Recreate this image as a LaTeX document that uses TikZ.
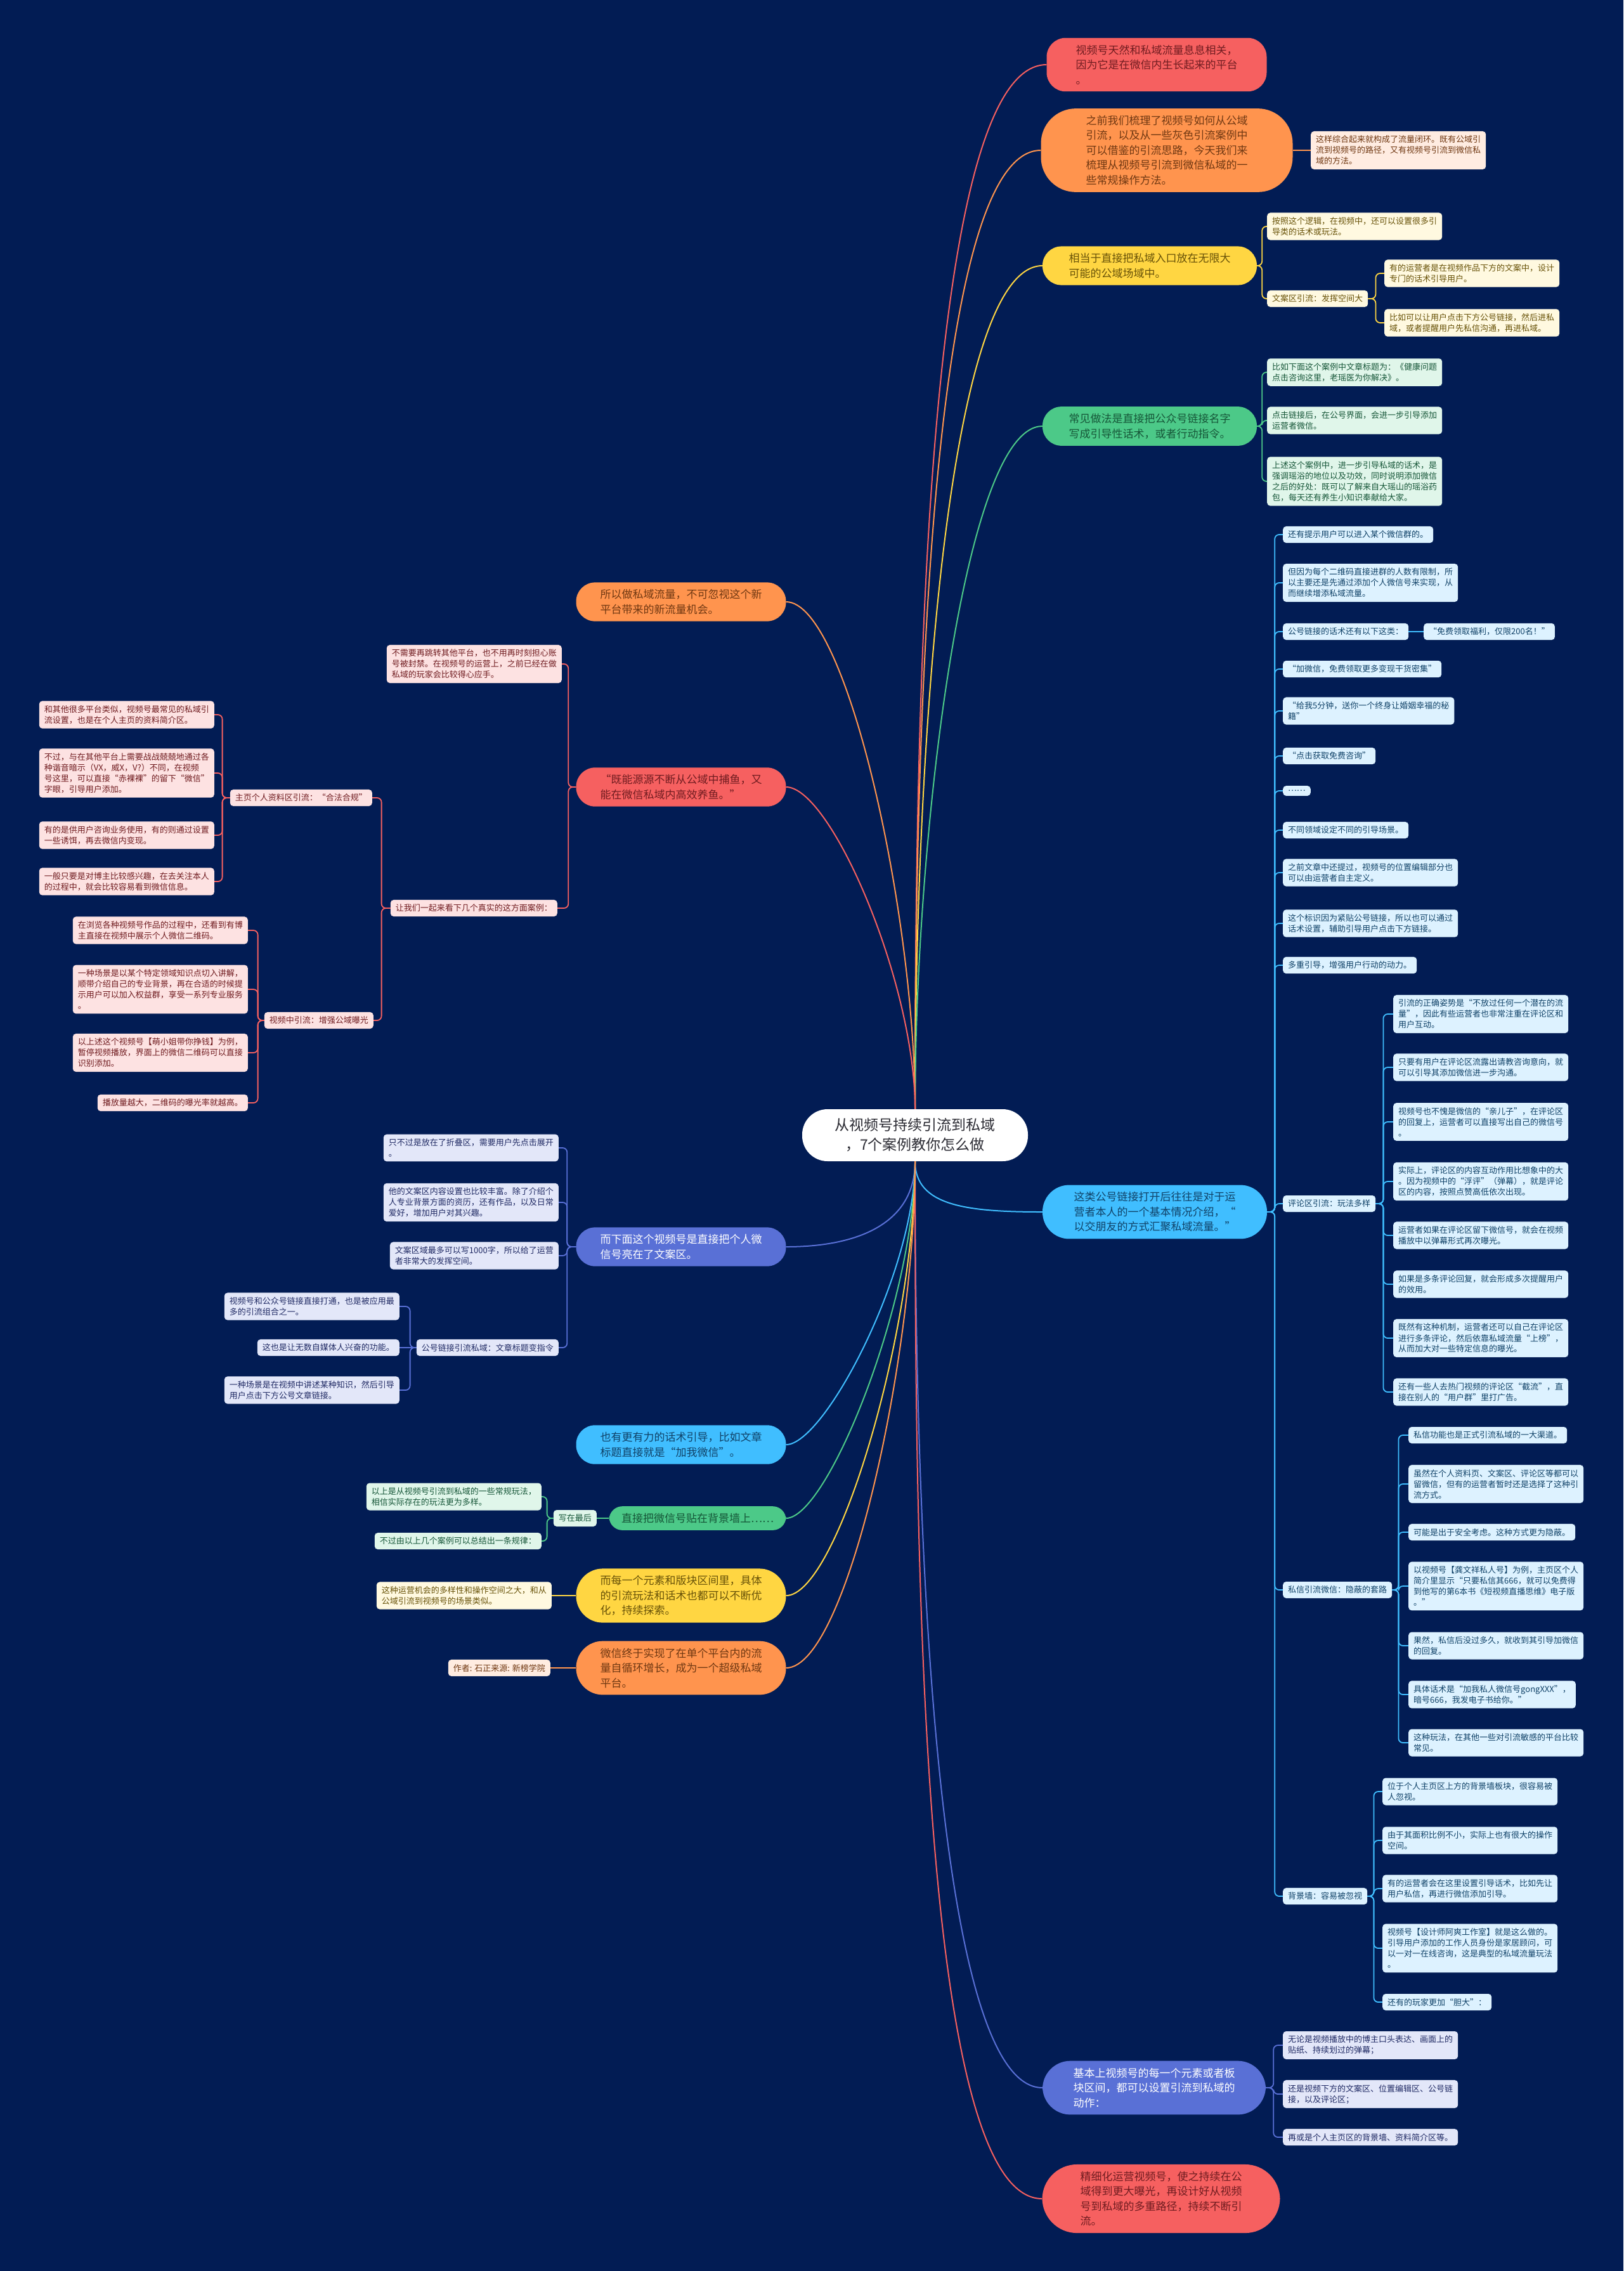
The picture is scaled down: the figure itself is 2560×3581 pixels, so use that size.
\documentclass[tikz,border=0pt]{standalone}
\usepackage{fontspec}
\setmainfont{Noto Sans CJK SC}
\definecolor{night}{RGB}{2,28,84}
\definecolor{ink}{RGB}{44,44,52}
\definecolor{coral}{RGB}{246,96,96}
\definecolor{coralpale}{RGB}{253,226,226}
\definecolor{coraldark}{RGB}{112,28,32}
\definecolor{amber}{RGB}{255,148,78}
\definecolor{amberpale}{RGB}{255,236,225}
\definecolor{amberdark}{RGB}{112,56,18}
\definecolor{sun}{RGB}{255,214,66}
\definecolor{sunpale}{RGB}{255,249,224}
\definecolor{sundark}{RGB}{104,82,8}
\definecolor{mint}{RGB}{76,201,136}
\definecolor{mintpale}{RGB}{224,246,234}
\definecolor{mintdark}{RGB}{22,86,56}
\definecolor{sky}{RGB}{64,190,255}
\definecolor{skypale}{RGB}{221,242,255}
\definecolor{skydark}{RGB}{16,66,104}
\definecolor{iris}{RGB}{89,112,214}
\definecolor{irispale}{RGB}{227,231,249}
\definecolor{irisdark}{RGB}{32,42,100}
\tikzset{
  hub/.style={fill=white,text=ink,rounded corners=40pt,minimum width=356pt,minimum height=82pt,align=center,font=\fontsize{23pt}{31pt}\selectfont},
  big/.style={rounded corners=30pt,inner xsep=14pt,inner ysep=11pt,align=left,font=\fontsize{17pt}{23.5pt}\selectfont},
  note/.style={rounded corners=5pt,inner xsep=8pt,inner ysep=7pt,align=left,font=\fontsize{13pt}{17pt}\selectfont},
  bcoral/.style={big,fill=coral,text=coraldark},
  bamber/.style={big,fill=amber,text=amberdark},
  bsun/.style={big,fill=sun,text=sundark},
  bmint/.style={big,fill=mint,text=mintdark},
  bsky/.style={big,fill=sky,text=skydark},
  biris/.style={big,fill=iris,text=white},
  ncoral/.style={note,fill=coralpale,text=coraldark},
  namber/.style={note,fill=amberpale,text=amberdark},
  nsun/.style={note,fill=sunpale,text=sundark},
  nmint/.style={note,fill=mintpale,text=mintdark},
  nsky/.style={note,fill=skypale,text=skydark},
  niris/.style={note,fill=irispale,text=irisdark},
  wire/.style={line width=2pt},
  twig/.style={line width=1.8pt,rounded corners=7pt},
  brR/.style={to path={-- ++(#1,0) |- (\tikztotarget)}},brR/.default=12,
  brL/.style={to path={-- ++(-#1,0) |- (\tikztotarget)}},brL/.default=12
}
\begin{document}
\begin{tikzpicture}[x=1pt,y=-1pt]
  \fill[night] (0,0) rectangle (2560,3581);
  % centre
  \node[hub] (root) at (1443,1790) {从视频号持续引流到私域\\，7个案例教你怎么做};
  % right branches
  \node[bcoral,minimum width=347pt] (r1) at (1824,102) {视频号天然和私域流量息息相关，\\因为它是在微信内生长起来的平台\\。};
  \node[bamber,minimum width=397pt,rounded corners=55pt] (r2) at (1840,237) {之前我们梳理了视频号如何从公域\\引流，以及从一些灰色引流案例中\\可以借鉴的引流思路，今天我们来\\梳理从视频号引流到微信私域的一\\些常规操作方法。};
  \node[bsun,minimum width=338pt] (r3) at (1813,419) {相当于直接把私域入口放在无限大\\可能的公域场域中。};
  \node[bmint,minimum width=338pt] (r4) at (1813,672) {常见做法是直接把公众号链接名字\\写成引导性话术，或者行动指令。};
  \node[bsky,minimum width=354pt,rounded corners=42pt] (r5) at (1821,1911) {这类公号链接打开后往往是对于运\\营者本人的一个基本情况介绍，“\\以交朋友的方式汇聚私域流量。”};
  \node[biris,minimum width=352pt,rounded corners=44pt] (r6) at (1820,3292) {基本上视频号的每一个元素或者板\\块区间，都可以设置引流到私域的\\动作：};
  \node[bcoral,minimum width=375pt,rounded corners=55pt] (r7) at (1831,3467) {精细化运营视频号，使之持续在公\\域得到更大曝光，再设计好从视频\\号到私域的多重路径，持续不断引\\流。};
  % left branches
  \node[bamber,minimum width=331pt] (l1) at (1074,949) {所以做私域流量，不可忽视这个新\\平台带来的新流量机会。};
  \node[bcoral,minimum width=331pt] (l2) at (1074,1241) {“既能源源不断从公域中捕鱼，又\\能在微信私域内高效养鱼。”};
  \node[biris,minimum width=331pt] (l3) at (1074,1966) {而下面这个视频号是直接把个人微\\信号亮在了文案区。};
  \node[bsky,minimum width=331pt] (l4) at (1074,2278) {也有更有力的话术引导，比如文章\\标题直接就是“加我微信”。};
  \node[bmint,minimum width=279pt,rounded corners=21pt] (l5) at (1100,2394) {直接把微信号贴在背景墙上……};
  \node[bsun,minimum width=331pt,rounded corners=42pt] (l6) at (1074,2516) {而每一个元素和版块区间里，具体\\的引流玩法和话术也都可以不断优\\化，持续探索。};
  \node[bamber,minimum width=331pt,rounded corners=42pt] (l7) at (1074,2630) {微信终于实现了在单个平台内的流\\量自循环增长，成为一个超级私域\\平台。};
  % right leaves
  \node[namber,anchor=west] (r2a) at (2067,237) {这样综合起来就构成了流量闭环。既有公域引\\流到视频号的路径，又有视频号引流到微信私\\域的方法。};
  \node[nsun,anchor=west] (r3a) at (1998,357) {按照这个逻辑，在视频中，还可以设置很多引\\导类的话术或玩法。};
  \node[nsun,anchor=west] (r3b) at (1998,471) {文案区引流：发挥空间大};
  \node[nsun,anchor=west] (r3b1) at (2183,431) {有的运营者是在视频作品下方的文案中，设计\\专门的话术引导用户。};
  \node[nsun,anchor=west] (r3b2) at (2183,509) {比如可以让用户点击下方公号链接，然后进私\\域，或者提醒用户先私信沟通，再进私域。};
  \node[nmint,anchor=west] (r4a) at (1998,587) {比如下面这个案例中文章标题为：《健康问题\\点击咨询这里，老瑶医为你解决》。};
  \node[nmint,anchor=west] (r4b) at (1998,663) {点击链接后，在公号界面，会进一步引导添加\\运营者微信。};
  \node[nmint,anchor=west] (r4c) at (1998,759) {上述这个案例中，进一步引导私域的话术，是\\强调瑶浴的地位以及功效，同时说明添加微信\\之后的好处：既可以了解来自大瑶山的瑶浴药\\包，每天还有养生小知识奉献给大家。};
  \node[nsky,anchor=west] (r5a) at (2023,843) {还有提示用户可以进入某个微信群的。};
  \node[nsky,anchor=west] (r5b) at (2023,919) {但因为每个二维码直接进群的人数有限制，所\\以主要还是先通过添加个人微信号来实现，从\\而继续增添私域流量。};
  \node[nsky,anchor=west] (r5c) at (2023,996) {公号链接的话术还有以下这类：};
  \node[nsky,anchor=west] (r5c1) at (2245,996) {“免费领取福利，仅限200名！”};
  \node[nsky,anchor=west] (r5d) at (2023,1055) {“加微信，免费领取更多变现干货密集”};
  \node[nsky,anchor=west] (r5e) at (2023,1121) {“给我5分钟，送你一个终身让婚姻幸福的秘\\籍”};
  \node[nsky,anchor=west] (r5f) at (2023,1192) {“点击获取免费咨询”};
  \node[nsky,anchor=west] (r5g) at (2023,1247) {……};
  \node[nsky,anchor=west] (r5h) at (2023,1309) {不同领域设定不同的引导场景。};
  \node[nsky,anchor=west] (r5i) at (2023,1376) {之前文章中还提过，视频号的位置编辑部分也\\可以由运营者自主定义。};
  \node[nsky,anchor=west] (r5j) at (2023,1456) {这个标识因为紧贴公号链接，所以也可以通过\\话术设置，辅助引导用户点击下方链接。};
  \node[nsky,anchor=west] (r5k) at (2023,1522) {多重引导，增强用户行动的动力。};
  \node[nsky,anchor=west] (r5l) at (2023,1898) {评论区引流：玩法多样};
  \node[nsky,anchor=west] (r5m) at (2023,2507) {私信引流微信：隐蔽的套路};
  \node[nsky,anchor=west] (r5n) at (2023,2990) {背景墙：容易被忽视};
  \node[nsky,anchor=west] (r5l1) at (2197,1599) {引流的正确姿势是“不放过任何一个潜在的流\\量”，因此有些运营者也非常注重在评论区和\\用户互动。};
  \node[nsky,anchor=west] (r5l2) at (2197,1683) {只要有用户在评论区流露出请教咨询意向，就\\可以引导其添加微信进一步沟通。};
  \node[nsky,anchor=west] (r5l3) at (2197,1769) {视频号也不愧是微信的“亲儿子”，在评论区\\的回复上，运营者可以直接写出自己的微信号\\。};
  \node[nsky,anchor=west] (r5l4) at (2197,1863) {实际上，评论区的内容互动作用比想象中的大\\。因为视频中的“浮评”（弹幕），就是评论\\区的内容，按照点赞高低依次出现。};
  \node[nsky,anchor=west] (r5l5) at (2197,1948) {运营者如果在评论区留下微信号，就会在视频\\播放中以弹幕形式再次曝光。};
  \node[nsky,anchor=west] (r5l6) at (2197,2025) {如果是多条评论回复，就会形成多次提醒用户\\的效用。};
  \node[nsky,anchor=west] (r5l7) at (2197,2110) {既然有这种机制，运营者还可以自己在评论区\\进行多条评论，然后依靠私域流量“上榜”，\\从而加大对一些特定信息的曝光。};
  \node[nsky,anchor=west] (r5l8) at (2197,2195) {还有一些人去热门视频的评论区“截流”，直\\接在别人的“用户群”里打广告。};
  \node[nsky,anchor=west] (r5m1) at (2221,2263) {私信功能也是正式引流私域的一大渠道。};
  \node[nsky,anchor=west] (r5m2) at (2221,2340) {虽然在个人资料页、文案区、评论区等都可以\\留微信，但有的运营者暂时还是选择了这种引\\流方式。};
  \node[nsky,anchor=west] (r5m3) at (2221,2416) {可能是出于安全考虑。这种方式更为隐蔽。};
  \node[nsky,anchor=west] (r5m4) at (2221,2501) {以视频号【龚文祥私人号】为例，主页区个人\\简介里显示“只要私信其666，就可以免费得\\到他写的第6本书《短视频直播思维》电子版\\。”};
  \node[nsky,anchor=west] (r5m5) at (2221,2595) {果然，私信后没过多久，就收到其引导加微信\\的回复。};
  \node[nsky,anchor=west] (r5m6) at (2221,2672) {具体话术是“加我私人微信号gongXXX”，\\暗号666，我发电子书给你。”};
  \node[nsky,anchor=west] (r5m7) at (2221,2748) {这种玩法，在其他一些对引流敏感的平台比较\\常见。};
  \node[nsky,anchor=west] (r5n1) at (2180,2825) {位于个人主页区上方的背景墙板块，很容易被\\人忽视。};
  \node[nsky,anchor=west] (r5n2) at (2180,2902) {由于其面积比例不小，实际上也有很大的操作\\空间。};
  \node[nsky,anchor=west] (r5n3) at (2180,2978) {有的运营者会在这里设置引导话术，比如先让\\用户私信，再进行微信添加引导。};
  \node[nsky,anchor=west] (r5n4) at (2180,3072) {视频号【设计师阿爽工作室】就是这么做的。\\引导用户添加的工作人员身份是家居顾问，可\\以一对一在线咨询，这是典型的私域流量玩法\\。};
  \node[nsky,anchor=west] (r5n5) at (2180,3157) {还有的玩家更加“胆大”：};
  \node[niris,anchor=west] (r6a) at (2023,3225) {无论是视频播放中的博主口头表达、画面上的\\贴纸、持续划过的弹幕；};
  \node[niris,anchor=west] (r6b) at (2023,3302) {还是视频下方的文案区、位置编辑区、公号链\\接，以及评论区；};
  \node[niris,anchor=west] (r6c) at (2023,3370) {再或是个人主页区的背景墙、资料简介区等。};
  % left leaves
  \node[ncoral,anchor=east] (l2a) at (886,1047) {不需要再跳转其他平台，也不用再时刻担心账\\号被封禁。在视频号的运营上，之前已经在做\\私域的玩家会比较得心应手。};
  \node[ncoral,anchor=east] (l2b) at (879,1432) {让我们一起来看下几个真实的这方面案例：};
  \node[ncoral,anchor=east] (l2b1) at (587,1258) {主页个人资料区引流：“合法合规”};
  \node[ncoral,anchor=east] (l2b1a) at (338,1127) {和其他很多平台类似，视频号最常见的私域引\\流设置，也是在个人主页的资料简介区。};
  \node[ncoral,anchor=east] (l2b1b) at (338,1219) {不过，与在其他平台上需要战战兢兢地通过各\\种谐音暗示（VX，威X，V?）不同，在视频\\号这里，可以直接“赤裸裸”的留下“微信”\\字眼，引导用户添加。};
  \node[ncoral,anchor=east] (l2b1c) at (338,1317) {有的是供用户咨询业务使用，有的则通过设置\\一些诱饵，再去微信内变现。};
  \node[ncoral,anchor=east] (l2b1d) at (338,1390) {一般只要是对博主比较感兴趣，在去关注本人\\的过程中，就会比较容易看到微信信息。};
  \node[ncoral,anchor=east] (l2b2) at (589,1609) {视频中引流：增强公域曝光};
  \node[ncoral,anchor=east] (l2b2a) at (391,1467) {在浏览各种视频号作品的过程中，还看到有博\\主直接在视频中展示个人微信二维码。};
  \node[ncoral,anchor=east] (l2b2b) at (391,1560) {一种场景是以某个特定领域知识点切入讲解，\\顺带介绍自己的专业背景，再在合适的时候提\\示用户可以加入权益群，享受一系列专业服务\\。};
  \node[ncoral,anchor=east] (l2b2c) at (391,1660) {以上述这个视频号【萌小姐带你挣钱】为例，\\暂停视频播放，界面上的微信二维码可以直接\\识别添加。};
  \node[ncoral,anchor=east] (l2b2d) at (391,1739) {播放量越大，二维码的曝光率就越高。};
  \node[niris,anchor=east] (l3a) at (881,1810) {只不过是放在了折叠区，需要用户先点击展开\\。};
  \node[niris,anchor=east] (l3b) at (881,1896) {他的文案区内容设置也比较丰富。除了介绍个\\人专业背景方面的资历，还有作品，以及日常\\爱好，增加用户对其兴趣。};
  \node[niris,anchor=east] (l3c) at (881,1980) {文案区域最多可以写1000字，所以给了运营\\者非常大的发挥空间。};
  \node[niris,anchor=east] (l3d) at (881,2125) {公号链接引流私域：文章标题变指令};
  \node[niris,anchor=east] (l3d1) at (630,2060) {视频号和公众号链接直接打通，也是被应用最\\多的引流组合之一。};
  \node[niris,anchor=east] (l3d2) at (630,2125) {这也是让无数自媒体人兴奋的功能。};
  \node[niris,anchor=east] (l3d3) at (630,2192) {一种场景是在视频中讲述某种知识，然后引导\\用户点击下方公号文章链接。};
  \node[nmint,anchor=east] (l5a) at (941,2394) {写在最后};
  \node[nmint,anchor=east] (l5a1) at (854,2360) {以上是从视频号引流到私域的一些常规玩法，\\相信实际存在的玩法更为多样。};
  \node[nmint,anchor=east] (l5a2) at (854,2430) {不过由以上几个案例可以总结出一条规律：};
  \node[nsun,anchor=east] (l6a) at (870,2516) {这种运营机会的多样性和操作空间之大，和从\\公域引流到视频号的场景类似。};
  \node[namber,anchor=east] (l7a) at (868,2630) {作者: 石正来源: 新榜学院};
  % centre to branches
  \draw[wire,coral] (root.north) .. controls +(0,-640) and +(-190,0) .. (r1.west);
  \draw[wire,amber] (root.north) .. controls +(0,-590) and +(-175,0) .. (r2.west);
  \draw[wire,sun] (root.north) .. controls +(0,-520) and +(-155,0) .. (r3.west);
  \draw[wire,mint] (root.north) .. controls +(0,-420) and +(-125,0) .. (r4.west);
  \draw[wire,sky] (root.south) .. controls +(0,70) and +(-120,0) .. (r5.west);
  \draw[wire,iris] (root.south) .. controls +(0,570) and +(-170,0) .. (r6.west);
  \draw[wire,coral] (root.south) .. controls +(0,640) and +(-190,0) .. (r7.west);
  \draw[wire,amber] (root.north) .. controls +(0,-310) and +(95,0) .. (l1.east);
  \draw[wire,coral] (root.north) .. controls +(0,-200) and +(70,0) .. (l2.east);
  \draw[wire,iris] (root.south) .. controls +(0,100) and +(110,0) .. (l3.east);
  \draw[wire,sky] (root.south) .. controls +(0,175) and +(60,0) .. (l4.east);
  \draw[wire,mint] (root.south) .. controls +(0,220) and +(65,0) .. (l5.east);
  \draw[wire,sun] (root.south) .. controls +(0,270) and +(80,0) .. (l6.east);
  \draw[wire,amber] (root.south) .. controls +(0,310) and +(95,0) .. (l7.east);
  % right forks
  \draw[twig,amber] (r2.east) -- (r2a.west);
  \draw[twig,sun] (r3.east) to[brR=8] (r3a.west);
  \draw[twig,sun] (r3.east) to[brR=8] (r3b.west);
  \draw[twig,sun] (r3b.east) to[brR] (r3b1.west);
  \draw[twig,sun] (r3b.east) to[brR] (r3b2.west);
  \draw[twig,mint] (r4.east) to[brR=8] (r4a.west);
  \draw[twig,mint] (r4.east) to[brR=8] (r4b.west);
  \draw[twig,mint] (r4.east) to[brR=8] (r4c.west);
  \draw[twig,sky] (r5.east) to[brR] (r5a.west);
  \draw[twig,sky] (r5.east) to[brR] (r5b.west);
  \draw[twig,sky] (r5.east) to[brR] (r5c.west);
  \draw[twig,sky] (r5.east) to[brR] (r5d.west);
  \draw[twig,sky] (r5.east) to[brR] (r5e.west);
  \draw[twig,sky] (r5.east) to[brR] (r5f.west);
  \draw[twig,sky] (r5.east) to[brR] (r5g.west);
  \draw[twig,sky] (r5.east) to[brR] (r5h.west);
  \draw[twig,sky] (r5.east) to[brR] (r5i.west);
  \draw[twig,sky] (r5.east) to[brR] (r5j.west);
  \draw[twig,sky] (r5.east) to[brR] (r5k.west);
  \draw[twig,sky] (r5.east) to[brR] (r5l.west);
  \draw[twig,sky] (r5.east) to[brR] (r5m.west);
  \draw[twig,sky] (r5.east) to[brR] (r5n.west);
  \draw[twig,sky] (r5c.east) -- (r5c1.west);
  \draw[twig,sky] (r5l.east) to[brR] (r5l1.west);
  \draw[twig,sky] (r5l.east) to[brR] (r5l2.west);
  \draw[twig,sky] (r5l.east) to[brR] (r5l3.west);
  \draw[twig,sky] (r5l.east) to[brR] (r5l4.west);
  \draw[twig,sky] (r5l.east) to[brR] (r5l5.west);
  \draw[twig,sky] (r5l.east) to[brR] (r5l6.west);
  \draw[twig,sky] (r5l.east) to[brR] (r5l7.west);
  \draw[twig,sky] (r5l.east) to[brR] (r5l8.west);
  \draw[twig,sky] (r5m.east) to[brR=10] (r5m1.west);
  \draw[twig,sky] (r5m.east) to[brR=10] (r5m2.west);
  \draw[twig,sky] (r5m.east) to[brR=10] (r5m3.west);
  \draw[twig,sky] (r5m.east) to[brR=10] (r5m4.west);
  \draw[twig,sky] (r5m.east) to[brR=10] (r5m5.west);
  \draw[twig,sky] (r5m.east) to[brR=10] (r5m6.west);
  \draw[twig,sky] (r5m.east) to[brR=10] (r5m7.west);
  \draw[twig,sky] (r5n.east) to[brR=10] (r5n1.west);
  \draw[twig,sky] (r5n.east) to[brR=10] (r5n2.west);
  \draw[twig,sky] (r5n.east) to[brR=10] (r5n3.west);
  \draw[twig,sky] (r5n.east) to[brR=10] (r5n4.west);
  \draw[twig,sky] (r5n.east) to[brR=10] (r5n5.west);
  \draw[twig,iris] (r6.east) to[brR] (r6a.west);
  \draw[twig,iris] (r6.east) to[brR] (r6b.west);
  \draw[twig,iris] (r6.east) to[brR] (r6c.west);
  % left forks
  \draw[twig,coral] (l2.west) to[brL] (l2a.east);
  \draw[twig,coral] (l2.west) to[brL] (l2b.east);
  \draw[twig,coral] (l2b.west) to[brL=14] (l2b1.east);
  \draw[twig,coral] (l2b.west) to[brL=14] (l2b2.east);
  \draw[twig,coral] (l2b1.west) to[brL] (l2b1a.east);
  \draw[twig,coral] (l2b1.west) to[brL] (l2b1b.east);
  \draw[twig,coral] (l2b1.west) to[brL] (l2b1c.east);
  \draw[twig,coral] (l2b1.west) to[brL] (l2b1d.east);
  \draw[twig,coral] (l2b2.west) to[brL=10] (l2b2a.east);
  \draw[twig,coral] (l2b2.west) to[brL=10] (l2b2b.east);
  \draw[twig,coral] (l2b2.west) to[brL=10] (l2b2c.east);
  \draw[twig,coral] (l2b2.west) to[brL=10] (l2b2d.east);
  \draw[twig,iris] (l3.west) to[brL=14] (l3a.east);
  \draw[twig,iris] (l3.west) to[brL=14] (l3b.east);
  \draw[twig,iris] (l3.west) to[brL=14] (l3c.east);
  \draw[twig,iris] (l3.west) to[brL=14] (l3d.east);
  \draw[twig,iris] (l3d.west) to[brL=10] (l3d1.east);
  \draw[twig,iris] (l3d.west) -- (l3d2.east);
  \draw[twig,iris] (l3d.west) to[brL=10] (l3d3.east);
  \draw[twig,mint] (l5.west) -- (l5a.east);
  \draw[twig,mint] (l5a.west) to[brL=10] (l5a1.east);
  \draw[twig,mint] (l5a.west) to[brL=10] (l5a2.east);
  \draw[twig,sun] (l6.west) -- (l6a.east);
  \draw[twig,amber] (l7.west) -- (l7a.east);
\end{tikzpicture}
\end{document}
